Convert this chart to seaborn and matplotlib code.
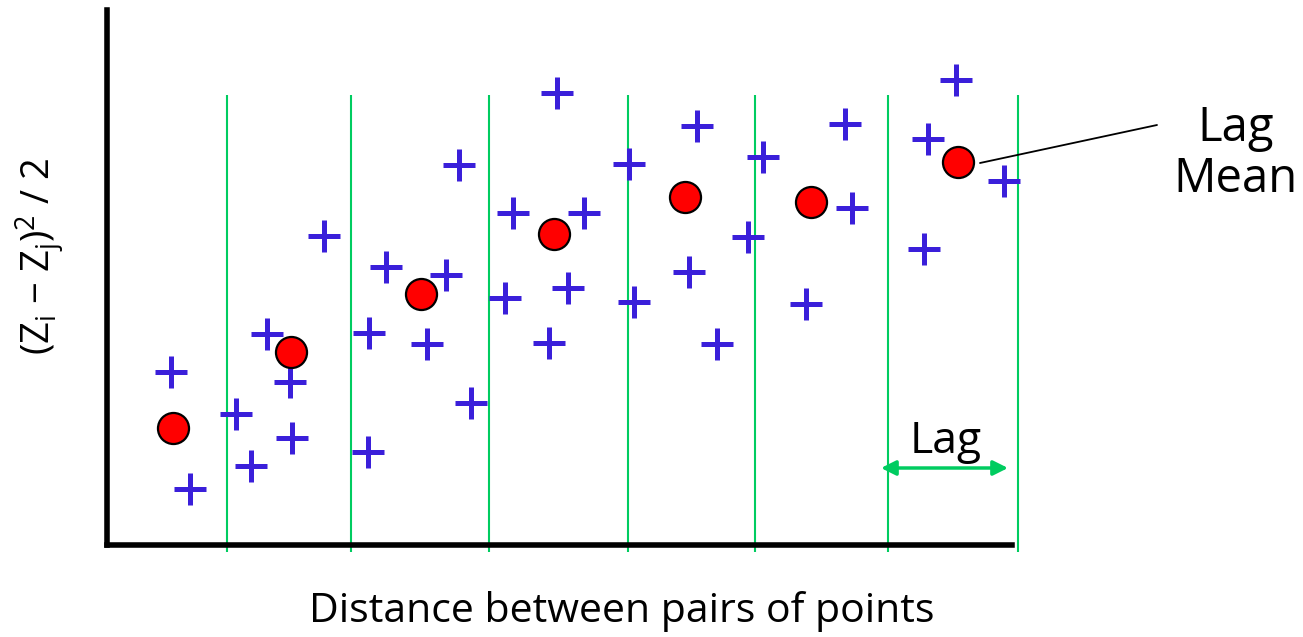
import matplotlib
matplotlib.use("Agg")
import matplotlib.pyplot as plt
import seaborn as sns
import pandas as pd

# ---- data (distance, semivariance), arbitrary units ----
pair_dist = [0.64, 0.83, 1.29, 1.44, 1.60, 1.83, 1.85, 2.17, 2.62, 2.61, 2.79, 3.20,
             3.39, 3.52, 3.64, 3.98, 4.06, 4.50, 4.42, 4.61, 4.77, 5.22, 5.27, 5.82,
             5.90, 6.10, 6.41, 6.56, 6.99, 7.38, 7.45, 8.17, 8.21, 8.49, 8.97]
pair_semivar = [1.73, 0.56, 1.31, 0.79, 2.11, 1.63, 1.07, 3.09, 2.12, 0.93, 2.78, 2.01,
                2.70, 3.80, 1.42, 2.47, 3.32, 4.52, 2.02, 2.57, 3.32, 3.81, 2.43, 2.73,
                4.19, 2.01, 3.08, 3.88, 2.41, 4.21, 3.37, 2.96, 4.06, 4.65, 3.64]
lag_mean_dist = [0.66, 1.84, 3.14, 4.47, 5.78, 7.04, 8.51]
lag_mean_semivar = [1.17, 1.93, 2.51, 3.11, 3.48, 3.43, 3.83]
lag_edges = [1.20, 2.44, 3.82, 5.21, 6.48, 7.81, 9.11]

pairs = pd.DataFrame({"dist": pair_dist, "semivar": pair_semivar})
means = pd.DataFrame({"dist": lag_mean_dist, "semivar": lag_mean_semivar})

BLUE = "#3A1FDA"
GREEN = "#00CC60"
FONT = ["Open Sans", "DejaVu Sans"]

sns.set_theme(style="white")
plt.rcParams["font.family"] = FONT
plt.rcParams["text.color"] = "black"
plt.rcParams["axes.labelcolor"] = "black"
plt.rcParams["mathtext.fontset"] = "custom"
plt.rcParams["mathtext.rm"] = "Open Sans"

fig = plt.figure(figsize=(13.03, 6.37), dpi=100)
W, H = 1303, 637
ax = fig.add_axes([107 / W, (H - 545) / H, (1012 - 107) / W, (545 - 10) / H])
ax.set_xlim(0, 9.05)
ax.set_ylim(0, 5.35)

# lag boundaries
ax.vlines(lag_edges, ymin=-0.07, ymax=4.50, color=GREEN, lw=1.5, clip_on=False, zorder=1)

sns.scatterplot(data=pairs, x="dist", y="semivar", marker="+", s=560, color=BLUE,
                linewidth=3.6, ax=ax, zorder=3, clip_on=False)
sns.scatterplot(data=means, x="dist", y="semivar", marker="o", s=500, color="#FF0000",
                edgecolor="black", linewidth=1.6, ax=ax, zorder=4, clip_on=False)

for s in ["top", "right"]:
    ax.spines[s].set_visible(False)
for s in ["left", "bottom"]:
    ax.spines[s].set_linewidth(4)
    ax.spines[s].set_color("black")
ax.set_xticks([])
ax.set_yticks([])

ax.set_xlabel("Distance between pairs of points", fontsize=29.5, va="center", color="black")
ax.xaxis.set_label_coords(0.569, -0.125)
ax.set_ylabel(r"(Z$_\mathregular{i}$ − Z$_\mathregular{j}$)$^\mathregular{2}$ / 2",
              fontsize=27.5, va="center", color="black")
ax.yaxis.set_label_coords(-0.074, 0.54)

# lag width arrow
ax.annotate("", xy=(9.01, 0.77), xytext=(7.74, 0.77),
            arrowprops=dict(arrowstyle="<|-|>", color=GREEN, lw=2.5, mutation_scale=22,
                            shrinkA=0, shrinkB=0),
            annotation_clip=False)
ax.text(8.39, 1.03, "Lag", fontsize=32, ha="center", va="center", color="black")

# lag mean callout
ax.annotate("", xy=(8.73, 3.82), xytext=(10.50, 4.20),
            arrowprops=dict(arrowstyle="-", color="black", lw=1.3, shrinkA=0, shrinkB=0),
            annotation_clip=False)
ax.text(11.29, 3.91, "Lag\nMean", fontsize=34, ha="center", va="center",
        multialignment="center", color="black", linespacing=1.1, clip_on=False)

fig.savefig("out.png", dpi=100)
